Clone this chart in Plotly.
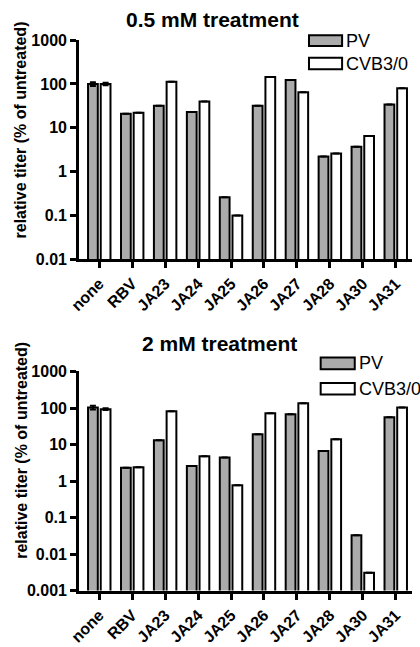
import plotly.graph_objects as go

categories = ["none", "RBV", "JA23", "JA24", "JA25", "JA26", "JA27", "JA28", "JA30", "JA31"]

# 0.5 mM treatment
pv_05 = [100, 21, 32, 23, 0.26, 32, 123, 2.2, 3.7, 34]
cvb_05 = [100, 22, 112, 40, 0.10, 145, 65, 2.6, 6.5, 80]
pv_05_err = [10, 0, 0, 0, 0, 0, 0, 0, 0, 0]
cvb_05_err = [6, 0, 0, 0, 0, 0, 0, 0, 0, 0]

# 2 mM treatment
pv_2 = [103, 2.3, 13, 2.6, 4.4, 19, 67, 6.6, 0.033, 56]
cvb_2 = [93, 2.4, 81, 4.8, 0.77, 72, 136, 14, 0.0031, 104]
pv_2_err = [12, 0, 0, 0, 0, 0, 0, 0, 0, 0]
cvb_2_err = [5, 0, 0, 0, 0, 0, 0, 0, 0, 0]

ticks_top = [0.01, 0.1, 1, 10, 100, 1000]
ticks_top_text = ["0.01", "0.1", "1", "10", "100", "1000"]
ticks_bot = [0.001, 0.01, 0.1, 1, 10, 100, 1000]
ticks_bot_text = ["0.001", "0.01", "0.1", "1", "10", "100", "1000"]

W, H = 420, 647
GREY = "#ababab"
FONT = "Liberation Sans, Arial, sans-serif"


def px(x):
    return x / W


def py(y):
    return 1 - y / H


fig = go.Figure()


def add_pair(pv, cvb, pv_err, cvb_err, xa, ya):
    fig.add_trace(go.Bar(
        x=categories, y=pv, name="PV", xaxis=xa, yaxis=ya,
        marker=dict(color=GREY, line=dict(color="black", width=2)),
        error_y=dict(type="data", array=pv_err, color="black", thickness=2, width=3, visible=True),
        showlegend=False))
    fig.add_trace(go.Bar(
        x=categories, y=cvb, name="CVB3/0", xaxis=xa, yaxis=ya,
        marker=dict(color="white", line=dict(color="black", width=2)),
        error_y=dict(type="data", array=cvb_err, color="black", thickness=2, width=3, visible=True),
        showlegend=False))


add_pair(pv_05, cvb_05, pv_05_err, cvb_05_err, "x", "y")
add_pair(pv_2, cvb_2, pv_2_err, cvb_2_err, "x2", "y2")

xdom = [px(70), px(412)]
xcommon = dict(
    type="category", range=[-0.61, 9.5], showline=True, linecolor="black", linewidth=3,
    ticks="outside", ticklen=6, tickwidth=3, tickcolor="black", tickangle=-45,
    tickfont=dict(family=FONT, size=16, color="black", weight="bold"),
    showgrid=False, zeroline=False, domain=xdom, fixedrange=True,
)
ycommon = dict(
    type="log", showline=True, linecolor="black", linewidth=3,
    ticks="outside", ticklen=6, tickwidth=3, tickcolor="black",
    tickfont=dict(family=FONT, size=16, color="black", weight="bold"),
    showgrid=False, zeroline=False, fixedrange=True,
)

fig.update_layout(
    width=W, height=H,
    margin=dict(l=0, r=0, t=0, b=0),
    paper_bgcolor="white", plot_bgcolor="white",
    barmode="group", bargap=0.23, bargroupgap=0.23,
    showlegend=False,
    xaxis=dict(**xcommon, anchor="y"),
    xaxis2=dict(**xcommon, anchor="y2"),
    yaxis=dict(**ycommon, range=[-2, 3], tickvals=ticks_top, ticktext=ticks_top_text,
               domain=[py(258), py(33)], anchor="x"),
    yaxis2=dict(**ycommon, range=[-3, 3], tickvals=ticks_bot, ticktext=ticks_bot_text,
                domain=[py(598.3), py(373.3)], anchor="x2"),
)

# Titles
annos = [
    dict(text="0.5 mM treatment", x=px(207), y=py(12), xref="paper", yref="paper",
         showarrow=False, xanchor="center", yanchor="middle",
         font=dict(family=FONT, size=21, color="black", weight="bold")),
    dict(text="2 mM treatment", x=px(214), y=py(345), xref="paper", yref="paper",
         showarrow=False, xanchor="center", yanchor="middle",
         font=dict(family=FONT, size=21, color="black", weight="bold")),
    dict(text="relative titer (% of untreated)", x=px(10), y=py(125), xref="paper", yref="paper",
         showarrow=False, xanchor="center", yanchor="middle", textangle=-90,
         font=dict(family=FONT, size=16, color="black", weight="bold")),
    dict(text="relative titer (% of untreated)", x=px(10), y=py(454), xref="paper", yref="paper",
         showarrow=False, xanchor="center", yanchor="middle", textangle=-90,
         font=dict(family=FONT, size=16, color="black", weight="bold")),
]

# Manual legends
shapes = []
legend_specs = [
    (306, 340, [(28, 39, GREY, "PV"), (51, 63, "white", "CVB3/0")]),
    (318, 353, [(359, 371, GREY, "PV"), (385, 397, "white", "CVB3/0")]),
]
for x0, x1, items in legend_specs:
    for y0, y1, col, label in items:
        shapes.append(dict(type="rect", xref="paper", yref="paper",
                           x0=px(x0), x1=px(x1), y0=py(y1), y1=py(y0),
                           fillcolor=col, line=dict(color="black", width=2)))
        annos.append(dict(text=label, x=px(x1 + 2), y=py((y0 + y1) / 2), xref="paper", yref="paper",
                          showarrow=False, xanchor="left", yanchor="middle",
                          font=dict(family=FONT, size=18, color="black")))

fig.update_layout(annotations=annos, shapes=shapes)

fig.write_html("out.html", config={"displayModeBar": False})

# remove default page margins so the figure sits at the window's origin
with open("out.html", "r", encoding="utf-8") as f:
    html = f.read()
html = html.replace("<head>", "<head><style>html,body{margin:0;padding:0;overflow:hidden;}</style>", 1)
with open("out.html", "w", encoding="utf-8") as f:
    f.write(html)
